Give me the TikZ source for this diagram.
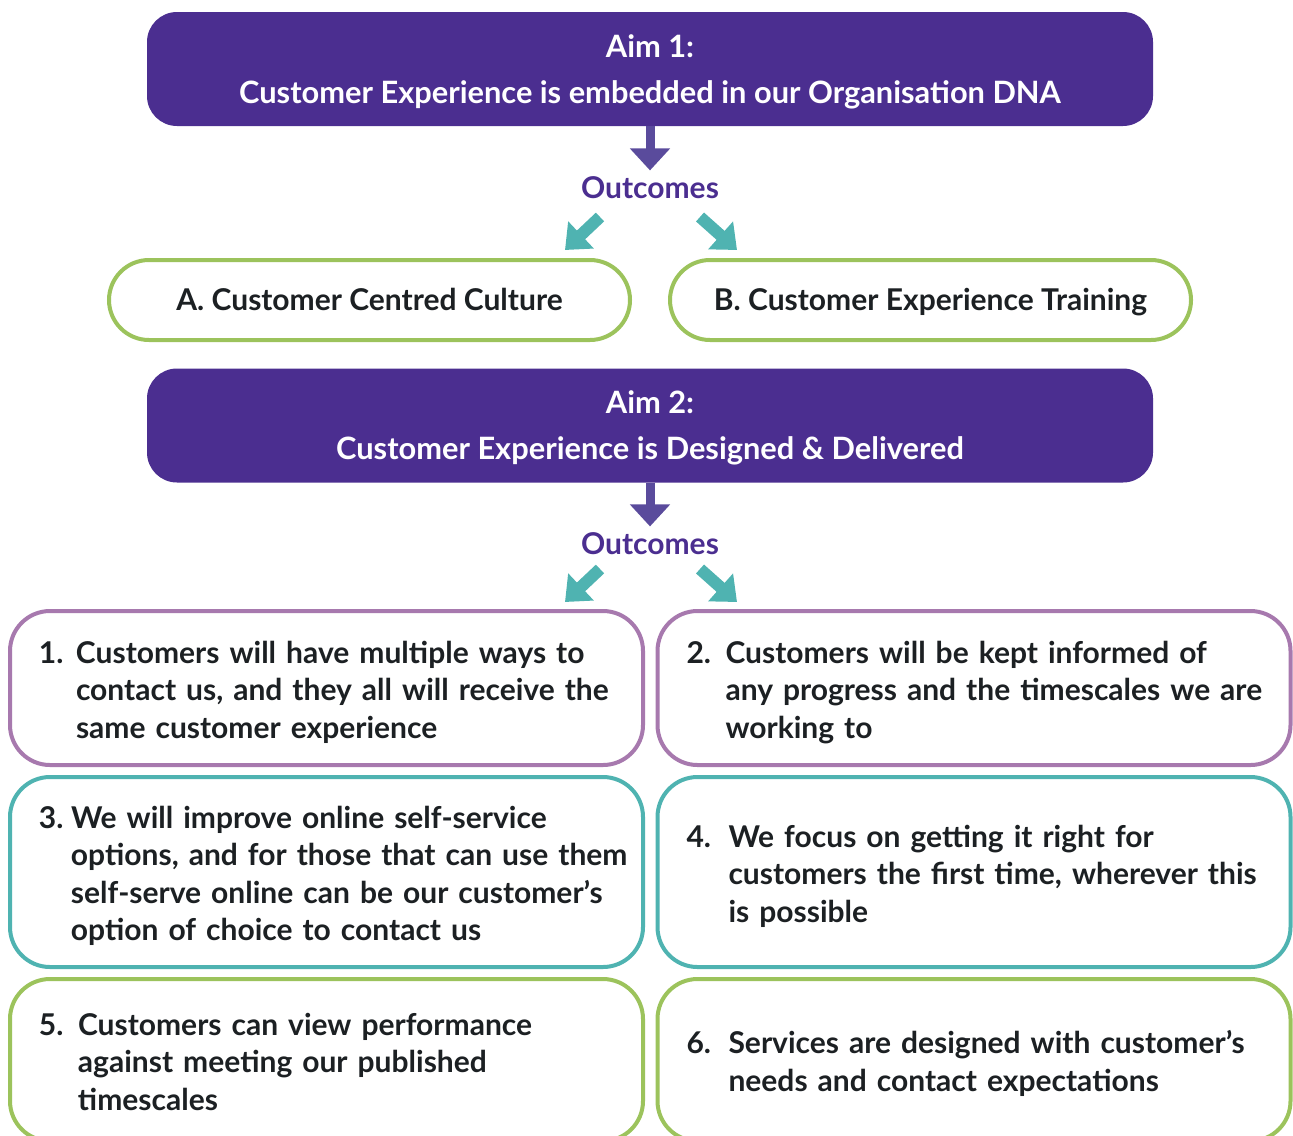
\documentclass[tikz,border=0pt]{standalone}
\usepackage{fontspec}
\setmainfont{Lato}
\usetikzlibrary{arrows.meta,positioning}
\definecolor{aimpurple}{HTML}{4B2E90}
\definecolor{downpurple}{HTML}{5A4B9C}
\definecolor{tealline}{HTML}{4FB3B1}
\definecolor{greenline}{HTML}{9CC35C}
\definecolor{mauveline}{HTML}{A779AE}
\definecolor{textgrey}{HTML}{1C2023}
% numbered outcome text: number, indent, lines
\newcommand{\numtext}[3]{\raisebox{-2.5pt}[\height][\depth]{\begin{tabular}{@{}p{#2}@{}l@{}}#1&#3\end{tabular}}}
\tikzset{
    %Define style for the aim banners
    aim/.style={
           rectangle, rounded corners=15pt,
           fill=aimpurple, text=white,
           minimum width=503pt, minimum height=57pt,
           align=center, text depth=0pt,
           font=\bfseries\fontsize{15.4}{23}\selectfont},
    %Define style for outlined boxes
    outbox/.style={
           rectangle, rounded corners=20pt,
           draw=#1, line width=2pt, fill=white,
           text=textgrey, inner xsep=14.5pt,
           font=\bfseries\fontsize{15}{18.75}\selectfont},
    % Define arrow styles
    downpil/.style={
           -{Triangle[width=19.5pt,length=11pt]},
           draw=downpurple, line width=4.5pt},
    skewpil/.style={
           -{Triangle[width=18pt,length=11pt]},
           draw=tealline, line width=6pt}
}
\begin{document}
\begin{tikzpicture}[x=0.5pt,y=-0.5pt,
outc/.style={text=aimpurple, inner sep=0pt, text height=0.72em, text depth=0pt,
  font=\bfseries\fontsize{15}{18}\selectfont},
smallbox/.style={outbox=greenline, inner xsep=2pt, text height=1.09em, text depth=0pt,
  minimum width=260.5pt, minimum height=40pt},
listbox/.style={outbox=#1, align=left, text width=287.5pt, minimum height=77pt}
]
\useasboundingbox (0,0) rectangle (1293,1135);
\clip (0,0) rectangle (1293,1135);
%Aim 1
\node[aim] (aim1) at (650,69) {Aim 1:\\Customer Experience is embedded in our Organisation DNA};
\node[outc] (oc1) at (650,191) {Outcomes};
\draw[downpil, shorten >=6.5pt] (aim1.south) -- (oc1.north);
\coordinate (oc1l) at (600,217);
\coordinate (oc1r) at (700,217);
\node[smallbox] (outA) at (369.5,300) {A. Customer Centred Culture};
\node[smallbox] (outB) at (930.5,300) {B. Customer Experience Training};
\coordinate (inA) at (565,250);
\coordinate (inB) at (737,250);
\draw[skewpil] (oc1l) -- (inA);
\draw[skewpil] (oc1r) -- (inB);

%Aim 2
\node[aim] (aim2) at (650,425.5) {Aim 2:\\Customer Experience is Designed \& Delivered};
\node[outc] (oc2) at (650,547) {Outcomes};
\draw[downpil, shorten >=6.5pt] (aim2.south) -- (oc2.north);
\coordinate (oc2l) at (600,569);
\coordinate (oc2r) at (700,569);
\coordinate (in1) at (565,602);
\coordinate (in2) at (737,602);
\draw[skewpil] (oc2l) -- (in1);
\draw[skewpil] (oc2r) -- (in2);

%Outcome boxes
\node[listbox=mauveline] (out1) at (326.5,688)
  {\numtext{1.}{18.5pt}{Customers will have multiple ways to\\&contact us, and they all will receive the\\&same customer experience}};
\node[listbox=mauveline] (out2) at (974,688)
  {\numtext{2.}{19.5pt}{Customers will be kept informed of\\&any progress and the timescales we are\\&working to}};
\node[listbox=tealline, minimum height=95pt] (out3) at (326.5,872)
  {\numtext{3.}{16pt}{We will improve online self-service\\&options, and for those that can use them\\&self-serve online can be our customer’s\\&option of choice to contact us}};
\node[listbox=tealline, minimum height=95pt] (out4) at (974,872)
  {\numtext{4.}{21pt}{We focus on getting it right for\\&customers the first time, wherever this\\&is possible}};
\node[listbox=greenline, minimum height=81pt] (out5) at (326.5,1060)
  {\numtext{5.}{19.5pt}{Customers can view performance\\&against meeting our published\\&timescales}};
\node[listbox=greenline, minimum height=81pt] (out6) at (974,1060)
  {\numtext{6.}{21pt}{Services are designed with customer’s\\&needs and contact expectations}};
\end{tikzpicture}
\end{document}
